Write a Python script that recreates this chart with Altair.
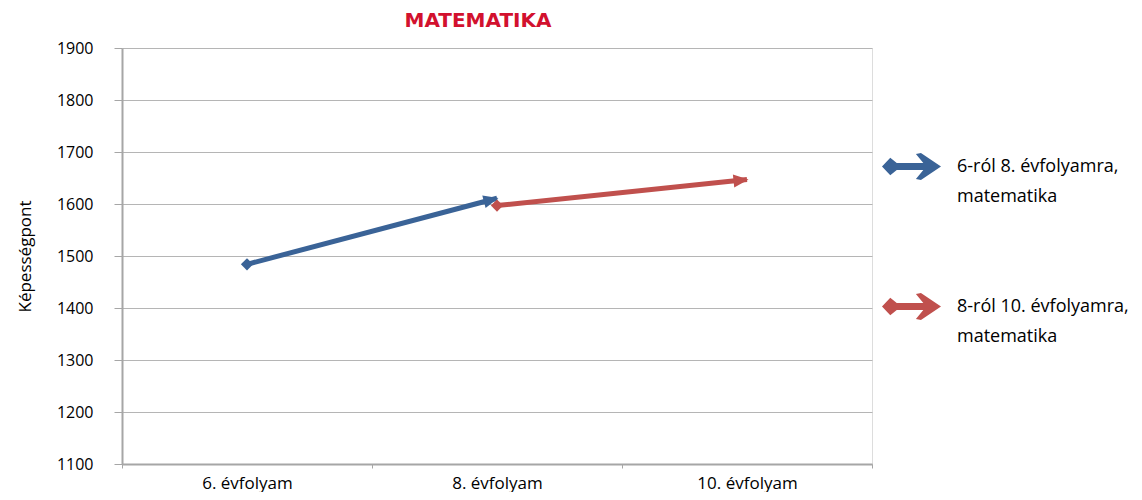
import math
import altair as alt
import pandas as pd

categories = ["6. évfolyam", "8. évfolyam", "10. évfolyam"]
series_names = ["6-ról 8. évfolyamra,\nmatematika", "8-ról 10. évfolyamra,\nmatematika"]
series_colors = ["#3A6397", "#C0504D"]
series1_cats = ["6. évfolyam", "8. évfolyam"]
series1_values = [1484, 1611]
series2_cats = ["8. évfolyam", "10. évfolyam"]
series2_values = [1597, 1647]
y_ticks = [1100, 1200, 1300, 1400, 1500, 1600, 1700, 1800, 1900]

W, H = 750, 416
Y_MIN, Y_MAX = 1100, 1900
step = W / len(categories)

rows = []
for name, cats, vals in [(series_names[0], series1_cats, series1_values),
                         (series_names[1], series2_cats, series2_values)]:
    dx = (categories.index(cats[-1]) - categories.index(cats[0])) * step
    dy = (vals[-1] - vals[0]) * H / (Y_MAX - Y_MIN)
    ang = (-math.degrees(math.atan2(dy, dx))) % 360
    for i, (c, v) in enumerate(zip(cats, vals)):
        rows.append(dict(series=name, cat=c, value=v,
                         role="start" if i == 0 else "end", angle=ang))
df = pd.DataFrame(rows)

FONT = "Open Sans"
GRID = "#B5B5B5"
DOMAIN = "#A6A6A6"

xenc = alt.X("cat:N", sort=categories,
             scale=alt.Scale(type="band", domain=categories, paddingInner=0, paddingOuter=0),
             axis=alt.Axis(title=None, labelAngle=0, tickBand="extent", tickSize=4,
                           labelPadding=7, labelFontSize=17, labelFont=FONT,
                           labelColor="#000000", domainColor=DOMAIN, domainWidth=2,
                           tickColor=DOMAIN, grid=False))
yenc = alt.Y("value:Q",
             scale=alt.Scale(domain=[Y_MIN, Y_MAX], nice=False, zero=False),
             axis=alt.Axis(title="Képességpont", values=y_ticks, format="d",
                           tickSize=8, labelPadding=21,
                           labelFontSize=16, labelFont=FONT, labelColor="#000000",
                           titleFont=FONT, titleFontSize=17, titleFontWeight="normal",
                           titleColor="#000000", titlePadding=22,
                           domainColor=DOMAIN, domainWidth=2, tickColor=DOMAIN,
                           gridColor=GRID, gridWidth=1))
color_scale = alt.Scale(domain=series_names, range=series_colors)

LEGEND_PATH = ("M -1 0 L -0.72 -0.3 L -0.5 -0.12 L 0.4 -0.12 L 0.15 -0.42 L 0.32 -0.46 "
               "L 1 0 L 0.32 0.46 L 0.15 0.42 L 0.4 0.12 L -0.5 0.12 L -0.72 0.3 Z")
HEAD_PATH = "M 0.2 0 L -1.8 -0.87 L -1.8 0.87 Z"

legend = alt.Legend(title=None, orient="none", legendX=760, legendY=89,
                    symbolType=LEGEND_PATH, symbolSize=3481,
                    symbolStrokeWidth=0, symbolOpacity=1,
                    labelFont=FONT, labelFontSize=18, labelColor="#000000",
                    labelLimit=400, labelOffset=16, rowPadding=71,
                    labelExpr="split(datum.label, '\\n')")
color = alt.Color("series:N", scale=color_scale, legend=legend)

base = alt.Chart(df)

lines = base.mark_line(strokeWidth=5, strokeCap="butt").encode(
    x=xenc, y=yenc, color=color, detail="series:N",
)

starts = base.transform_filter(alt.datum.role == "start").mark_point(
    shape="diamond", filled=True, size=150, opacity=1).encode(
    x=xenc, y=yenc, color=color,
)

heads = base.transform_filter(alt.datum.role == "end").mark_point(
    shape=HEAD_PATH, filled=True, size=225, opacity=1).encode(
    x=xenc, y=yenc, color=color,
    angle=alt.Angle("angle:Q", scale=None),
)

chart = alt.layer(lines, starts, heads).properties(
    width=W, height=H,
    autosize=alt.AutoSizeParams(type="none"),
    padding={"left": 114, "top": 40, "right": 262, "bottom": 28},
    title=alt.TitleParams("MATEMATIKA", color="#D2112E", fontSize=20, font="DejaVu Sans",
                          fontWeight="bold", offset=9, dx=-19),
).configure_view(stroke=GRID, strokeWidth=1).configure(
    background="white", style={"guide-label": {"lineHeight": 30}})

chart.save("out.html", embed_options={"renderer": "svg", "actions": False})
